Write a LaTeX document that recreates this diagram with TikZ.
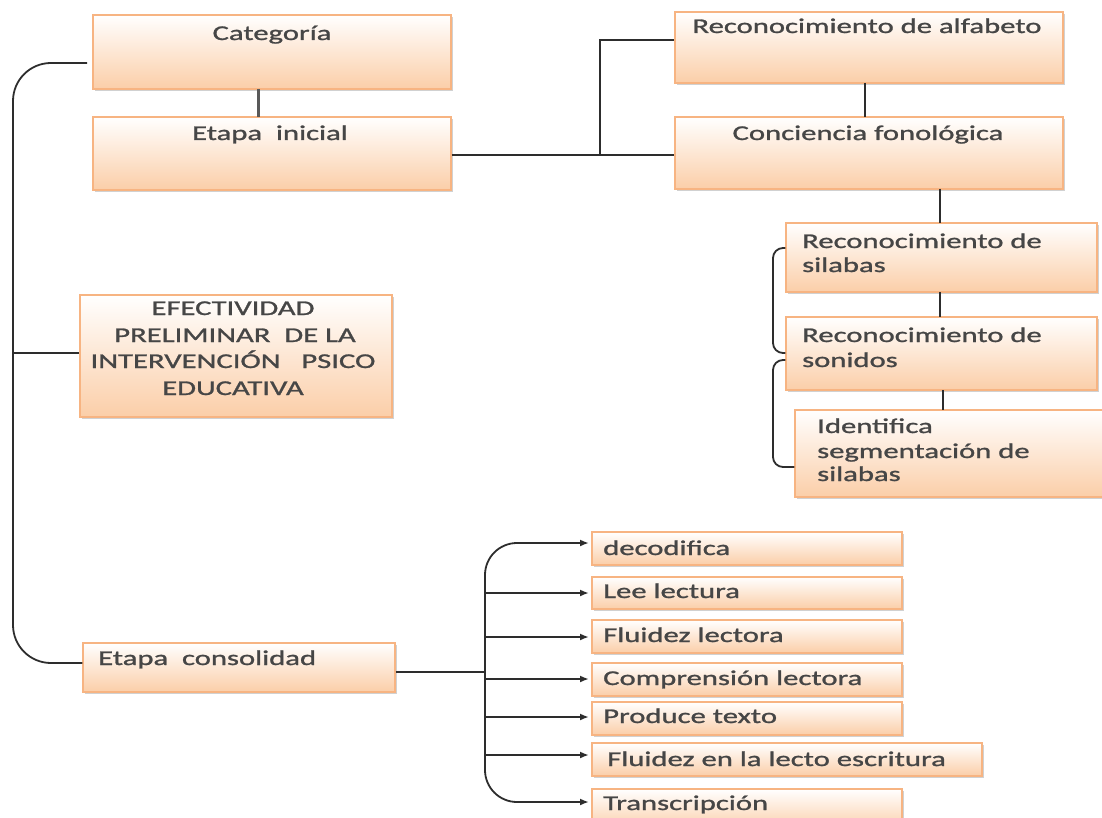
\documentclass[tikz,border=0pt]{standalone}
\usepackage{fontspec}
\setmainfont{Carlito}[FakeStretch=1.46,FakeBold=1.2]
\usetikzlibrary{fit,shadows,arrows.meta}
\definecolor{boxline}{RGB}{247,180,130}
\definecolor{peach}{RGB}{251,206,168}
\definecolor{txtgray}{RGB}{70,70,70}
\definecolor{linegray}{RGB}{45,45,45}
\tikzset{
  box/.style={draw=boxline, line width=1.3pt, top color=white, bottom color=peach,
    inner sep=0pt, drop shadow={shadow xshift=2pt, shadow yshift=-2pt, opacity=0.3, fill=black!60}},
  txt/.style={inner sep=0pt, text=txtgray, font=\fontsize{21}{25}\selectfont},
  conn/.style={draw=linegray, line width=1.8pt},
  arr/.style={conn, -{Latex[length=9pt,width=7pt]}}
}
\begin{document}
\begin{tikzpicture}[x=1pt,y=-1pt]
\useasboundingbox (0,0) rectangle (1102,818);
% boxes
\node[box, fit={(93,15)(451,89)}] (cat) {};
\node[box, fit={(93,117)(451,190)}] (ini) {};
\node[box, fit={(675,12)(1063,83)}] (alf) {};
\node[box, fit={(675,117)(1063,189)}] (fon) {};
\node[box, fit={(786,223)(1097,292)}] (sil) {};
\node[box, fit={(786,317)(1097,390)}] (son) {};
\node[box, fit={(795,410)(1108,497)}] (seg) {};
\node[box, fit={(80,295)(392,417)}] (efe) {};
\node[box, fit={(83,643)(395,692)}] (cons) {};
\node[box, fit={(592,532)(902,565)}] (dec) {};
\node[box, fit={(592,577)(902,609)}] (lee) {};
\node[box, fit={(592,620)(902,653)}] (flu) {};
\node[box, fit={(592,663)(902,696)}] (com) {};
\node[box, fit={(592,702)(902,735)}] (pro) {};
\node[box, fit={(592,743)(982,776)}] (fle) {};
\node[box, fit={(592,789)(902,830)}] (tra) {};
% texts
\node[txt, anchor=base] (tcat) at (272,40) {Categoría};
\node[txt, anchor=base] (tini) at (270,140) {Etapa\ \ inicial};
\node[txt, anchor=base] (talf) at (867,33) {Reconocimiento de alfabeto};
\node[txt, anchor=base] (tfon) at (868,140) {Conciencia fonológica};
\node[txt, anchor=base west] (tsil1) at (802,248) {Reconocimiento de};
\node[txt, anchor=base west] (tsil2) at (802,272) {silabas};
\node[txt, anchor=base west] (tson1) at (802,342) {Reconocimiento de};
\node[txt, anchor=base west] (tson2) at (802,367) {sonidos};
\node[txt, anchor=base west] (tseg1) at (817,433) {Identifica};
\node[txt, anchor=base west] (tseg2) at (817,458) {segmentación de};
\node[txt, anchor=base west] (tseg3) at (817,481) {silabas};
\node[txt, anchor=base] (tefe1) at (233,315) {EFECTIVIDAD};
\node[txt, anchor=base] (tefe2) at (235,342) {PRELIMINAR\ \ DE LA};
\node[txt, anchor=base] (tefe3) at (233,368) {INTERVENCIÓN\ \ \ PSICO};
\node[txt, anchor=base] (tefe4) at (233,395) {EDUCATIVA};
\node[txt, anchor=base west] (tcons) at (98,665) {Etapa\ \ consolidad};
\node[txt, anchor=base west] (tdec) at (603,555) {decodifica};
\node[txt, anchor=base west] (tlee) at (603,598) {Lee lectura};
\node[txt, anchor=base west] (tflu) at (603,642) {Fluidez lectora};
\node[txt, anchor=base west] (tcom) at (603,685) {Comprensión lectora};
\node[txt, anchor=base west] (tpro) at (603,723) {Produce texto};
\node[txt, anchor=base west] (tfle) at (607,766) {Fluidez en la lecto escritura};
\node[txt, anchor=base west] (ttra) at (603,810) {Transcripción};
% connectors top
\draw[draw=black!65, line width=3pt] (258,89) -- (258,117);
\draw[conn] (ini.east |- 0,155) -- (fon.west |- 0,155);
\coordinate (br) at (600,155);
\draw[conn] (br) -- (600,40) -- (alf.west |- 0,40);
\draw[conn] (865,83) -- (865,117);
\draw[conn] (940,189) -- (940,223);
\draw[conn] (940,292) -- (940,317);
\draw[conn] (943,390) -- (943,410);
% small braces
\draw[conn, rounded corners=10pt] (sil.west |- 0,248) -- (773,248) -- (773,353) -- (son.west |- 0,353);
\draw[conn, rounded corners=10pt] (son.west |- 0,360) -- (773,360) -- (773,467) -- (seg.west |- 0,467);
% big left bracket
\draw[conn, rounded corners=38pt] (87,63) -- (13,63) -- (13,663) -- (cons.west |- 0,663);
\draw[conn] (13,353) -- (efe.west |- 0,353);
% consolidation spine
\coordinate (sp) at (485,672);
\draw[conn] (cons.east |- sp) -- (sp);
\draw[arr, rounded corners=32pt] (sp) -- (485,543) -- (589,543);
\draw[arr, rounded corners=32pt] (sp) -- (485,802) -- (589,802);
\draw[arr] (485,593) -- (589,593);
\draw[arr] (485,637) -- (589,637);
\draw[arr] (485,679) -- (589,679);
\draw[arr] (485,717) -- (589,717);
\draw[arr] (485,755) -- (589,755);
\end{tikzpicture}
\end{document}
